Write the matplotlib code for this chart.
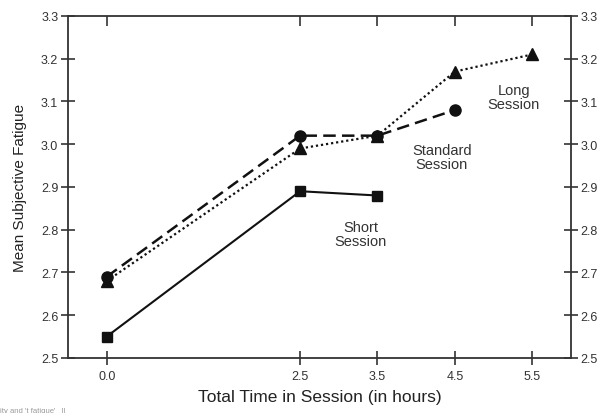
import matplotlib
matplotlib.use("Agg")
import matplotlib.pyplot as plt

plt.rcParams['font.family'] = ['Liberation Sans', 'DejaVu Sans']

# 数据
hours = [0.0, 2.5, 3.5, 4.5, 5.5]
short_x = [0.0, 2.5, 3.5]
short_y = [2.55, 2.89, 2.88]
standard_x = [0.0, 2.5, 3.5, 4.5]
standard_y = [2.69, 3.02, 3.02, 3.08]
long_x = [0.0, 2.5, 3.5, 4.5, 5.5]
long_y = [2.68, 2.99, 3.02, 3.17, 3.21]
yticks = [2.5, 2.6, 2.7, 2.8, 2.9, 3.0, 3.1, 3.2, 3.3]

fig = plt.figure(figsize=(6.03, 4.14), dpi=100)
ax = fig.add_axes([0.1128, 0.133, 0.834, 0.826])

ink = '#111111'
txt = '#333333'

ax.plot(short_x, short_y, color=ink, linestyle='-', linewidth=1.5,
        marker='s', markersize=7.5, zorder=3)
ax.plot(standard_x, standard_y, color=ink, linestyle=(0, (5, 2.5)), linewidth=1.8,
        marker='o', markersize=8, zorder=3)
ax.plot(long_x, long_y, color=ink, linestyle=(0, (1, 1.3)), linewidth=1.6,
        marker='^', markersize=8, zorder=3)

# 文字标注
ax.text(3.28, 2.79, 'Short\nSession', ha='center', va='center', fontsize=10.5,
        color=txt, linespacing=1.0)
ax.text(4.33, 2.97, 'Standard\nSession', ha='center', va='center', fontsize=10.5,
        color=txt, linespacing=1.0)
ax.text(5.26, 3.11, 'Long\nSession', ha='center', va='center', fontsize=10.5,
        color=txt, linespacing=1.0)

ax.set_xlim(-0.5, 6.0)
ax.set_ylim(2.5, 3.3)
ax.set_xticks(hours)
ax.set_xticklabels(['%.1f' % h for h in hours])
ax.set_yticks(yticks)
ax.set_yticklabels(['%.1f' % v for v in yticks])

ax.tick_params(axis='both', which='major', direction='inout', length=10,
               width=1.2, color='#333333', labelsize=9, labelcolor=txt)
ax.tick_params(axis='y', right=True, labelright=True, pad=2)
ax.tick_params(axis='x', top=False, pad=4)
for spine in ax.spines.values():
    spine.set_linewidth(1.3)
    spine.set_color('#333333')

# 顶部刻度朝内
top = ax.secondary_xaxis('top')
top.set_xticks(hours)
top.tick_params(direction='in', length=7, width=1.2, color='#333333', labeltop=False)
top.spines['top'].set_visible(False)

ax.set_xlabel('Total Time in Session (in hours)', fontsize=12.5, color='#222222', labelpad=5)
ax.set_ylabel('Mean Subjective Fatigue', fontsize=11, color='#222222', labelpad=10)

# 底部残留的小字
fig.text(0.0, 0.002, 'ity and \'t fatigue\'   ll', fontsize=5.5, color='#999999')

fig.savefig('out.png', dpi=100)
